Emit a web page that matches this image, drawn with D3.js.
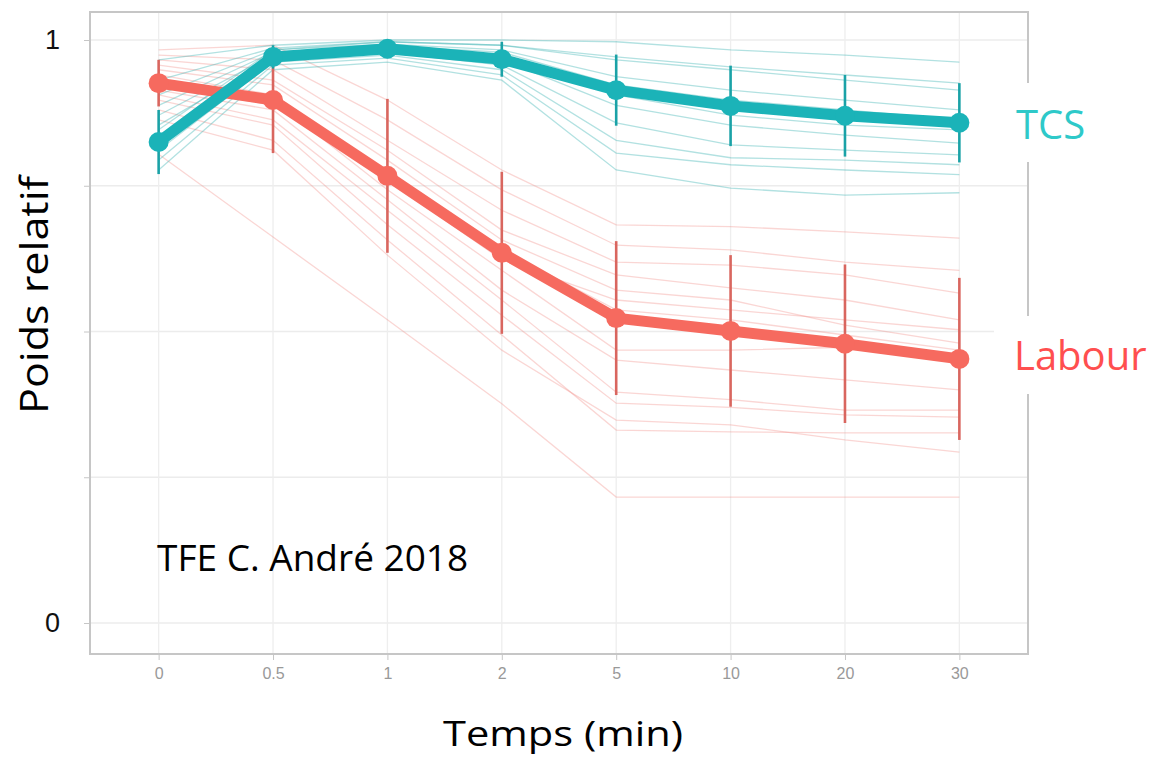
<!DOCTYPE html>
<html>
<head>
<meta charset="utf-8">
<script src="https://cdn.jsdelivr.net/npm/d3@7"></script>
<style>
  body { margin: 0; background: #fff; }
  svg { display: block; }
</style>
</head>
<body>
<div id="chart"></div>
<script>
// Categories (time, min)
const times = ["0", "0.5", "1", "2", "5", "10", "20", "30"];

// Mean curves
const tcsMean    = [0.825, 0.971, 0.985, 0.967, 0.914, 0.887, 0.870, 0.858];
const tcsSd      = [0.055, 0.020, 0.015, 0.030, 0.061, 0.069, 0.070, 0.068];
const labourMean = [0.926, 0.897, 0.767, 0.635, 0.523, 0.501, 0.479, 0.453];
const labourSd   = [0.040, 0.091, 0.132, 0.139, 0.132, 0.130, 0.136, 0.139];

// Individual samples
const tcsSamples = [
  [0.966, 0.991, 1.000, 1.000, 0.997, 0.983, 0.974, 0.962],
  [0.931, 0.986, 0.997, 0.991, 0.971, 0.954, 0.940, 0.926],
  [0.906, 0.983, 0.993, 0.983, 0.937, 0.914, 0.897, 0.880],
  [0.888, 0.979, 0.990, 0.979, 0.923, 0.897, 0.880, 0.863],
  [0.871, 0.974, 0.986, 0.974, 0.906, 0.871, 0.854, 0.846],
  [0.854, 0.969, 0.983, 0.966, 0.888, 0.854, 0.837, 0.823],
  [0.828, 0.966, 0.979, 0.957, 0.858, 0.820, 0.811, 0.803],
  [0.811, 0.962, 0.974, 0.949, 0.828, 0.798, 0.794, 0.786],
  [0.794, 0.957, 0.969, 0.940, 0.806, 0.786, 0.777, 0.769],
  [0.777, 0.949, 0.962, 0.931, 0.777, 0.746, 0.734, 0.738],
  [0.846, 0.983, 0.997, 0.991, 0.966, 0.949, 0.931, 0.914]
];
const labourSamples = [
  [0.983, 0.991, 0.897, 0.777, 0.683, 0.680, 0.671, 0.660],
  [0.974, 0.966, 0.863, 0.743, 0.648, 0.640, 0.619, 0.605],
  [0.966, 0.949, 0.828, 0.708, 0.619, 0.614, 0.597, 0.566],
  [0.957, 0.931, 0.811, 0.674, 0.597, 0.575, 0.554, 0.520],
  [0.949, 0.923, 0.794, 0.657, 0.571, 0.554, 0.511, 0.480],
  [0.940, 0.906, 0.768, 0.640, 0.537, 0.520, 0.494, 0.468],
  [0.931, 0.897, 0.743, 0.605, 0.468, 0.468, 0.473, 0.451],
  [0.914, 0.880, 0.726, 0.571, 0.451, 0.434, 0.417, 0.400],
  [0.906, 0.863, 0.708, 0.554, 0.396, 0.383, 0.365, 0.365],
  [0.897, 0.854, 0.683, 0.528, 0.377, 0.370, 0.357, 0.353],
  [0.880, 0.828, 0.657, 0.494, 0.331, 0.328, 0.326, 0.326],
  [0.863, 0.811, 0.631, 0.468, 0.348, 0.340, 0.314, 0.293],
  [0.804, 0.662, 0.520, 0.376, 0.216, 0.216, 0.216, 0.216],
  [0.923, 0.888, 0.760, 0.623, 0.554, 0.537, 0.520, 0.503]
];

const yTicks = [0, 0.25, 0.5, 0.75, 1];
const yTickLabels = {0: "0", 1: "1"};

const width = 1151, height = 759;
const panel = {left: 90, right: 1028, top: 12, bottom: 654};

const svg = d3.select("#chart").append("svg")
  .attr("width", width)
  .attr("height", height)
  .style("font-family", "'Open Sans', 'Noto Sans', sans-serif");

const x = d3.scalePoint()
  .domain(times)
  .range([panel.left, panel.right])
  .padding(0.6);

const y = d3.scaleLinear()
  .domain([0, 1])
  .range([623, 40]);

// gridlines
svg.append("g")
  .selectAll("line.hgrid")
  .data(yTicks)
  .join("line")
  .attr("x1", panel.left).attr("x2", panel.right)
  .attr("y1", d => y(d)).attr("y2", d => y(d))
  .attr("stroke", "#ececec").attr("stroke-width", 1.3);

svg.append("g")
  .selectAll("line.vgrid")
  .data(times)
  .join("line")
  .attr("x1", d => x(d)).attr("x2", d => x(d))
  .attr("y1", panel.top).attr("y2", panel.bottom)
  .attr("stroke", "#eeeeee").attr("stroke-width", 1.3);

// panel border
svg.append("rect")
  .attr("x", panel.left).attr("y", panel.top)
  .attr("width", panel.right - panel.left)
  .attr("height", panel.bottom - panel.top)
  .attr("fill", "none")
  .attr("stroke", "#c6c6c6")
  .attr("stroke-width", 2);

// axes
const xAxis = svg.append("g")
  .attr("transform", `translate(0,${panel.bottom})`)
  .call(d3.axisBottom(x).tickSize(6).tickPadding(8));
xAxis.select(".domain").remove();
xAxis.selectAll(".tick line").attr("stroke", "#c6c6c6");
xAxis.selectAll(".tick text")
  .attr("fill", "#999")
  .style("font-size", "16px");

const yAxis = svg.append("g")
  .attr("transform", `translate(${panel.left},0)`)
  .call(d3.axisLeft(y).tickValues(yTicks).tickSize(6).tickPadding(24)
    .tickFormat(d => yTickLabels[d] || ""));
yAxis.select(".domain").remove();
yAxis.selectAll(".tick line").attr("stroke", "#c6c6c6");
yAxis.selectAll(".tick text")
  .attr("fill", "#111")
  .style("font-size", "27px");

const line = d3.line()
  .x((d, i) => x(times[i]))
  .y(d => y(d));

const tcsColor = "#1bb3b8", labourColor = "#f66a5f";

// individual lines
svg.append("g")
  .selectAll("path")
  .data(labourSamples)
  .join("path")
  .attr("d", line)
  .attr("fill", "none")
  .attr("stroke", "#f08a84")
  .attr("stroke-opacity", 0.35)
  .attr("stroke-width", 1.3);

svg.append("g")
  .selectAll("path")
  .data(tcsSamples)
  .join("path")
  .attr("d", line)
  .attr("fill", "none")
  .attr("stroke", "#3fb3b5")
  .attr("stroke-opacity", 0.4)
  .attr("stroke-width", 1.3);

// error bars + mean line
function drawMean(mean, sd, color, barColor) {
  const g = svg.append("g");
  g.selectAll("line")
    .data(mean)
    .join("line")
    .attr("x1", (d, i) => x(times[i]))
    .attr("x2", (d, i) => x(times[i]))
    .attr("y1", (d, i) => y(d + sd[i]))
    .attr("y2", (d, i) => y(d - sd[i]))
    .attr("stroke", barColor)
    .attr("stroke-width", 2.6);
  g.append("path")
    .datum(mean)
    .attr("d", line)
    .attr("fill", "none")
    .attr("stroke", color)
    .attr("stroke-width", 11)
    .attr("stroke-linejoin", "round");
  g.selectAll("circle")
    .data(mean)
    .join("circle")
    .attr("cx", (d, i) => x(times[i]))
    .attr("cy", d => y(d))
    .attr("r", 10)
    .attr("fill", color);
}
drawMean(labourMean, labourSd, labourColor, "#d9665f");
drawMean(tcsMean, tcsSd, tcsColor, "#1aa2a7");

// series labels with white background
const labels = [
  {text: "TCS", color: "#2ec9c9", x: 1016, y: 139, box: [1014, 83, 137, 79]},
  {text: "Labour", color: "#ff4f4f", x: 1014, y: 370, box: [994, 316, 157, 78]}
];
labels.forEach(l => {
  svg.append("rect")
    .attr("x", l.box[0]).attr("y", l.box[1])
    .attr("width", l.box[2]).attr("height", l.box[3])
    .attr("fill", "#fff");
  svg.append("text")
    .attr("x", l.x).attr("y", l.y)
    .attr("fill", l.color)
    .style("font-size", "40px")
    .text(l.text);
});

// axis titles
svg.append("text")
  .attr("transform", "translate(48,295) rotate(-90)")
  .attr("text-anchor", "middle")
  .attr("fill", "#000")
  .attr("textLength", 238)
  .attr("lengthAdjust", "spacingAndGlyphs")
  .style("font-size", "38px")
  .text("Poids relatif");

svg.append("text")
  .attr("x", 563).attr("y", 746)
  .attr("text-anchor", "middle")
  .attr("fill", "#000")
  .attr("textLength", 240)
  .attr("lengthAdjust", "spacingAndGlyphs")
  .style("font-size", "35px")
  .text("Temps (min)");

// annotation
svg.append("text")
  .attr("x", 157).attr("y", 571)
  .attr("fill", "#000")
  .style("font-size", "37px")
  .text("TFE C. André 2018");
</script>
</body>
</html>
